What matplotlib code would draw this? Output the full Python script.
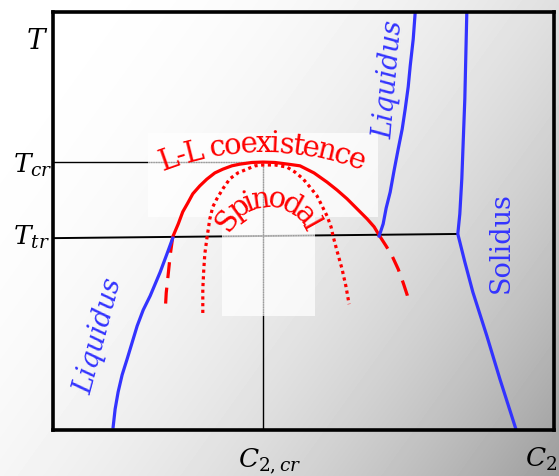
import matplotlib
matplotlib.use("Agg")
import matplotlib.pyplot as plt
import numpy as np
from matplotlib.font_manager import FontProperties
from matplotlib.patches import Rectangle
from matplotlib.transforms import IdentityTransform

SERIF = "DejaVu Serif"
RED = "#ff0000"
BLUE = "#3333ff"

# composition C2 (0-100 across the frame) and temperature (0-100 up the frame)
coex_x = [23.9, 25.0, 25.9, 26.9, 27.9, 29.3, 30.7, 32.3, 33.9, 35.7, 37.3, 39.7, 41.9,
          44.3, 46.9, 49.3, 52.1, 54.7, 56.7, 58.7, 60.7, 62.7, 64.1, 65.1]
coex_t = [46.2, 49.3, 52.2, 54.3, 56.5, 58.4, 60.0, 61.5, 62.4, 63.2, 63.6, 64.0, 64.1,
          64.0, 63.6, 63.2, 61.5, 59.3, 57.4, 55.3, 52.9, 50.5, 48.6, 46.6]

meta_left_x = [23.9, 23.4, 23.0, 22.6, 22.4]
meta_left_t = [46.2, 41.9, 37.3, 32.8, 28.5]
meta_right_x = [65.1, 66.5, 67.7, 68.9, 69.9, 70.7, 71.1]
meta_right_t = [46.6, 44.0, 41.6, 38.5, 35.2, 32.3, 30.1]

spin_x = [29.9, 29.9, 30.1, 30.3, 30.7, 31.3, 31.9, 32.7, 33.9, 35.3, 36.9, 38.7, 40.3, 41.9,
          44.3, 46.7, 48.3, 49.9, 51.3, 52.7, 53.7, 54.7, 55.5, 55.9, 56.7, 57.7, 58.5, 59.1]
spin_t = [28.0, 33.7, 38.5, 42.1, 45.7, 50.5, 53.4, 55.3, 57.7, 60.1, 61.5, 62.4, 63.2, 63.4,
          63.4, 62.9, 61.7, 60.1, 58.1, 56.0, 53.6, 51.2, 48.6, 46.4, 42.8, 38.5, 34.2, 30.1]

liq_left_x = [12.0, 12.4, 13.0, 13.8, 14.8, 16.8, 18.0, 19.4, 21.4, 22.8, 23.9]
liq_left_t = [0.7, 5.0, 9.1, 13.2, 17.0, 24.9, 28.7, 32.1, 37.8, 42.3, 45.9]

liq_right_x = [65.1, 65.9, 66.5, 67.3, 68.1, 68.9, 69.7, 70.3, 70.9, 71.3, 71.9, 72.3]
liq_right_t = [46.4, 49.3, 53.1, 56.9, 62.2, 67.2, 72.0, 76.8, 82.1, 87.1, 93.5, 100.0]

sol_x = [82.6, 82.2, 81.6, 81.2, 80.8, 82.2, 83.8, 86.6, 89.2, 92.4]
sol_t = [100.0, 79.2, 60.1, 51.7, 46.9, 40.2, 33.0, 22.5, 12.2, 0.2]

t_cr = 64.1
t_tr_left, t_tr_right = 45.9, 46.9
c2_cr = 41.9
c2_solidus = 80.8

# light boxes pasted over the middle of the diagram (x0, t0, width, height)
patch_boxes = [(19.0, 50.9, 45.9, 20.2), (33.7, 27.3, 18.6, 23.6)]


def text_on_arc(ax, text, center, radius, size, color, squeeze=1.0):
    renderer = ax.figure.canvas.get_renderer()
    prop = FontProperties(family=SERIF, size=size)
    base, _, _ = renderer.get_text_width_height_descent("nn", prop, ismath=False)
    widths = []
    for ch in text:
        w, _, _ = renderer.get_text_width_height_descent("n" + ch + "n", prop, ismath=False)
        widths.append((w - base) * squeeze)
    mid_r = radius + 0.26 * size * ax.figure.dpi / 72
    cx, cy = ax.transData.transform(center)
    pos = -sum(widths) / 2
    for ch, w in zip(text, widths):
        theta = (pos + w / 2) / mid_r
        ax.text(cx + radius * np.sin(theta), cy + radius * np.cos(theta), ch,
                transform=IdentityTransform(), fontproperties=prop, color=color,
                rotation=-np.degrees(theta), rotation_mode="anchor",
                ha="center", va="baseline", zorder=6, clip_on=False)
        pos += w


plt.rcParams["mathtext.fontset"] = "dejavuserif"
fig = plt.figure(figsize=(5.59, 4.77), dpi=100)

# grey wash behind everything, white top-left to grey bottom-right
bg = fig.add_axes([0, 0, 1, 1], zorder=-10)
u = np.linspace(0, 1, 559)[None, :]
v = np.linspace(0, 1, 477)[:, None]
wash = 1 - 0.39 * (0.62 * u + 0.38 * v) ** 2.4
bg.imshow(wash, cmap="gray", vmin=0, vmax=1, aspect="auto", interpolation="bilinear")
bg.axis("off")

ax = fig.add_axes([53 / 559, 46 / 477, 501 / 559, 418 / 477])
ax.patch.set_alpha(0)
ax.set_xlim(0, 100)
ax.set_ylim(0, 100)
ax.set_xticks([])
ax.set_yticks([])
for spine in ax.spines.values():
    spine.set_linewidth(2.6)
    spine.set_zorder(10)

# guide lines
guides = [([0, c2_cr], [t_cr, t_cr], 1.0),
          ([0, c2_solidus], [t_tr_left, t_tr_right], 1.4),
          ([c2_cr, c2_cr], [0, t_cr], 1.0)]
for gx, gt, lw in guides:
    ax.plot(gx, gt, color="black", lw=lw, zorder=2)

for x0, t0, w, h in patch_boxes:
    box = Rectangle((x0, t0), w, h, facecolor="white", edgecolor="none", alpha=0.75, zorder=3)
    ax.add_patch(box)
    for gx, gt, lw in guides:
        line, = ax.plot(gx, gt, color="#9a9a9a", lw=0.9, ls=(0, (1, 1)), zorder=4)
        line.set_clip_path(box)

# phase boundaries
ax.plot(coex_x, coex_t, color=RED, lw=2.3, zorder=5, solid_joinstyle="round")
ax.plot(meta_left_x, meta_left_t, color=RED, lw=2.3, ls=(0, (5, 3)), zorder=5)
ax.plot(meta_right_x, meta_right_t, color=RED, lw=2.3, ls=(0, (5, 3)), zorder=5)
ax.plot(spin_x, spin_t, color=RED, lw=2.3, ls=(0, (1, 1.1)), zorder=5)
ax.plot(liq_left_x, liq_left_t, color=BLUE, lw=2.3, zorder=5)
ax.plot(liq_right_x, liq_right_t, color=BLUE, lw=2.3, zorder=5)
ax.plot(sol_x, sol_t, color=BLUE, lw=2.3, zorder=5)

# labels
ax.text(9.2, 22.7, "Liquidus", family=SERIF, style="italic", size=19.5, color=BLUE,
        rotation=75, ha="center", va="center", zorder=6)
ax.text(67.0, 84.0, "Liquidus", family=SERIF, style="italic", size=19.5, color=BLUE,
        rotation=85, ha="center", va="center", zorder=6)
ax.text(89.4, 45.0, "Solidus", family=SERIF, size=19.5, color=BLUE,
        rotation=90, ha="center", va="center", zorder=6)

text_on_arc(ax, "L-L coexistence", (41.7, 1.4), 273, 21, RED, squeeze=0.9)
text_on_arc(ax, "Spinodal", (42.9, 43.8), 41, 21, RED, squeeze=0.86)

ax.text(-3.2, 91.4, "$T$", size=20, ha="center", va="baseline", clip_on=False)
ax.text(-8.0, 61.7, "$T_{cr}$", size=19, ha="left", va="baseline", clip_on=False)
ax.text(-8.0, 44.5, "$T_{tr}$", size=19, ha="left", va="baseline", clip_on=False)
ax.text(43.3, -8.6, "$C_{2,cr}$", size=19, ha="center", va="baseline", clip_on=False)
ax.text(97.4, -8.6, "$C_2$", size=19, ha="center", va="baseline", clip_on=False)

fig.savefig("out.png", dpi=100)
